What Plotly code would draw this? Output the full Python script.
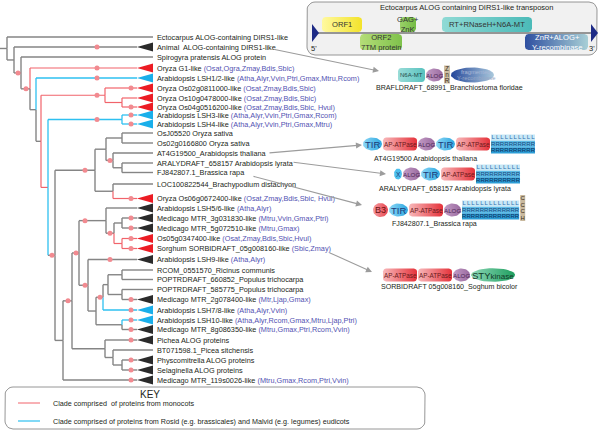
import numpy as np
import plotly.graph_objects as go

FONT = 'Liberation Sans, Arial, sans-serif'

# ---------------- tree data ----------------
leaf_ids = ['ecto', 'animal', 'spiro', 'g1', 'lsh12', 'os02a', 'os10', 'os04', 'lsh3', 'lsh4',
            'osj', 'os02b', 'at4g', 'araly', 'fj', 'loc', 'os06', 'lsh56', 'mtr3', 'mtr5',
            'os05', 'sorb', 'lsh9', 'rcom', 'pop1', 'pop2', 'mtr2', 'lsh78', 'lsh10', 'mtr8',
            'pichea', 'bt', 'physco', 'selag', 'mtr119']
leaf_names = ['Ectocarpus ALOG-containing DIRS1-like', 'Animal  ALOG-containing DIRS1-like',
              'Spirogyra pratensis ALOG protein', 'Oryza G1-like', 'Arabidopsis LSH1/2-like',
              'Oryza Os02g0811000-like', 'Oryza Os10g0478000-like', 'Oryza Os04g0516200-like',
              'Arabidopsis LSH3-like', 'Arabidopsis LSH4-like', 'OsJ05520 Oryza sativa',
              'Os02g0166800 Oryza sativa', 'AT4G19500_Arabidopsis thaliana',
              'ARALYDRAFT_658157 Arabidopsis lyrata', 'FJ842807.1_Brassica rapa',
              'LOC100822544_Brachypodium distachyon', 'Oryza Os06g0672400-like',
              'Arabidopsis LSH5/6-like', 'Medicago MTR_3g031830-like', 'Medicago MTR_5g072510-like',
              'Os05g0347400-like', 'Sorghum SORBIDRAFT_05g008160-like', 'Arabidopsis LSH9-like',
              'RCOM_0551570_Ricinus communis', 'POPTRDRAFT_660852_Populus trichocarpa',
              'POPTRDRAFT_585775_Populus trichocarpa', 'Medicago MTR_2g078400-like',
              'Arabidopsis LSH7/8-like', 'Arabidopsis LSH10-like', 'Medicago MTR_8g086350-like',
              'Pichea ALOG proteins', 'BT071598.1_Picea sitchensis', 'Physcomitrella ALOG proteins',
              'Selaginella ALOG proteins', 'Medicago MTR_119s0026-like']
leaf_species = ['', '', '', 'Osat,Ogra,Zmay,Bdis,Sbic', 'Atha,Alyr,Vvin,Ptri,Gmax,Mtru,Rcom',
                'Osat,Zmay,Bdis,Sbic', 'Osat,Zmay,Bdis,Sbic', 'Osat,Zmay,Bdis,Sbic, Hvul',
                'Atha,Alyr,Vvin,Ptri,Gmax,Rcom', 'Atha,Alyr,Vvin,Ptri,Gmax,Mtru', '', '', '', '', '', '',
                'Osat,Zmay,Bdis,Sbic, Hvul', 'Atha,Alyr', 'Mtru,Vvin,Gmax,Ptri', 'Mtru,Gmax',
                'Osat,Zmay,Bdis,Sbic,Hvul', 'Sbic,Zmay', 'Atha,Alyr', '', '', '', 'Mtr,Ljap,Gmax',
                'Atha,Alyr,Vvin', 'Atha,Alyr,Rcom,Gmax,Mtru,Ljap,Ptri', 'Mtru,Gmax,Ptri,Rcom,Vvin',
                '', '', '', '', 'Mtru,Gmax,Rcom,Ptri,Vvin']
leaf_collapsed = [0, 1, 0, 1, 1, 1, 1, 1, 1, 1, 0, 0, 0, 0, 0, 0, 1, 1, 1, 1,
                  1, 1, 1, 0, 0, 0, 1, 1, 1, 1, 1, 0, 1, 1, 1]

node_children = {
    'root': ['ecto', 'n1'], 'n1': ['animal', 'n2'], 'n2': ['spiro', 'n3'], 'n3': ['g1', 'n4'],
    'n4': ['lsh12', 'n5'], 'n5': ['r1', 'n6'], 'r1': ['os02a', 'r2'], 'r2': ['os10', 'os04'],
    'n6': ['b1', 'n7'], 'b1': ['lsh3', 'lsh4'], 'n7': ['n8', 'nx'], 'n8': ['n9', 'n12'],
    'n9': ['p1', 'n10'], 'p1': ['osj', 'os02b'], 'n10': ['at4g', 'n11'], 'n11': ['araly', 'fj'],
    'n12': ['loc', 'os06'], 'nx': ['n13', 'mtr119'], 'n13': ['n16', 'ncm'], 'n16': ['n17', 'n18'],
    'n17': ['lsh56', 'n19'], 'n19': ['n20', 'n21'], 'n20': ['mtr3', 'mtr5'], 'n21': ['os05', 'sorb'],
    'n18': ['lsh9', 'n25'], 'n25': ['n26', 'n23'], 'n26': ['n27', 'lsh78'], 'n27': ['pa', 'pb'],
    'pa': ['rcom', 'pop1'], 'pb': ['pop2', 'mtr2'], 'n23': ['lsh10', 'mtr8'],
    'ncm': ['pichea', 'n14'], 'n14': ['bt', 'n15'], 'n15': ['physco', 'selag'],
}
node_depth = {'root': 7, 'n1': 14, 'n2': 21, 'n3': 30, 'n4': 36, 'n5': 41, 'r1': 105, 'r2': 122,
              'n6': 48, 'b1': 122, 'n7': 55, 'n8': 95, 'n9': 106, 'p1': 122, 'n10': 113, 'n11': 122,
              'n12': 113, 'nx': 63, 'n13': 72, 'n16': 79, 'n17': 106, 'n19': 114, 'n20': 122,
              'n21': 122, 'n18': 88, 'n25': 96, 'n26': 103, 'n27': 108, 'pa': 122, 'pb': 122,
              'n23': 122, 'ncm': 105, 'n14': 113, 'n15': 122}
monocot_branches = ['g1', 'r1', 'os02a', 'r2', 'os10', 'os04', 'os06', 'n21', 'os05', 'sorb', 'n6']
eudicot_branches = ['lsh12', 'b1', 'lsh3', 'lsh4', 'lsh78', 'lsh10']
support_at = {'n2': 18, 'n3': 26, 'animal': 97, 'g1': 97, 'lsh12': 97, 'r1': 97, 'os02a': 131,
              'os04': 131, 'b1': 97, 'lsh3': 131, 'lsh4': 131, 'n7': 52, 'n8': 85, 'n10': 110,
              'os06': 131, 'n13': 68, 'n16': 76, 'n17': 85, 'n19': 110, 'mtr3': 131, 'mtr5': 131,
              'os05': 131, 'sorb': 131, 'n18': 85, 'lsh9': 110, 'n26': 100, 'mtr2': 131,
              'lsh78': 131, 'lsh10': 131, 'mtr8': 131, 'pichea': 131, 'physco': 131,
              'selag': 131, 'mtr119': 131}

# domain architectures
arch_labels = ['BRAFLDRAFT_68991_Branchiostoma floridae', 'AT4G19500 Arabidopsis thaliana',
               'ARALYDRAFT_658157 Arabidopsis lyrata', 'FJ842807.1_Brassica rapa',
               'SORBIDRAFT 05g008160_Soghum bicolor']
arch_domains = [['N6A-MT', 'ALOG', 'ZnR', 'fragY'],
                ['TIR', 'AP-ATPase', 'ALOG', 'TIR', 'AP-ATPase', 'LRR10'],
                ['X', 'ALOG', 'TIR', 'AP-ATPase', 'LRR10'],
                ['B3', 'TIR', 'AP-ATPase', 'ALOG', 'LRR13', 'CCCH'],
                ['AP-ATPase', 'AP-ATPase', 'ALOG', 'STYkinase']]

# ---------------- layout constants ----------------
row_px = [37, 47, 57, 68, 78, 88, 98, 107, 115, 124, 133, 143, 153, 163, 172.5, 184, 198.5,
          208, 218, 228, 238.5, 248.5, 259.5, 270, 279.5, 289.5, 299.5, 310, 320, 329.5,
          340, 350, 360, 370, 380]
arch_start = [(398, 75), (363, 144), (394, 174), (373, 210), (383, 275)]
arch_caption = [(449, 88), (425, 159), (445, 189), (434, 224), (449, 287)]
arrow_tail = [(272, 49), (268, 153), (292, 162), (252, 176), (328, 252)]
arrow_head = [(379, 71), (362, 145), (386, 174), (362, 205), (372, 272)]

GRAY, RED, BLUE = '#858585', '#F1636B', '#2EC0F0'
TRI = {'m': '#EC1C24', 'e': '#1AAFEA', 'o': '#2B2B2B'}
SPC = '#5252B2'

fig = go.Figure()
ann = []


def txt(x, y, s, size=7.3, color='#231F20', anchor='left', **kw):
    ann.append(dict(x=x, y=y, text=s, showarrow=False, xanchor=anchor, yanchor='middle',
                    font=dict(family=FONT, size=size, color=color), borderpad=0, **kw))


def poly(xs, ys, color, grad=None, lw=0, lc=None, fill=True):
    kw = dict(x=list(xs), y=list(ys), mode='lines', hoverinfo='skip', showlegend=False,
              line=dict(width=lw, color=lc or color))
    if fill:
        kw.update(fill='toself', fillcolor=color)
        if grad:
            kw['fillgradient'] = dict(type='horizontal', colorscale=[[0, grad[0]], [1, grad[1]]])
    fig.add_trace(go.Scatter(**kw))


def rrect(x0, x1, y0, y1, r):
    pts = []
    for cx, cy, a0, a1 in [(x1 - r, y0 + r, -90, 0), (x1 - r, y1 - r, 0, 90),
                           (x0 + r, y1 - r, 90, 180), (x0 + r, y0 + r, 180, 270)]:
        for a in np.radians(np.linspace(a0, a1, 7)):
            pts.append((cx + r * np.cos(a), cy + r * np.sin(a)))
    pts.append(pts[0])
    return [p[0] for p in pts], [p[1] for p in pts]


def ell(cx, cy, rx, ry):
    t = np.linspace(0, 2 * np.pi, 48)
    return cx + rx * np.cos(t), cy + ry * np.sin(t)


# ---------------- tree ----------------
ys = dict(zip(leaf_ids, row_px))
depth = dict(node_depth)
for lid, col in zip(leaf_ids, leaf_collapsed):
    depth[lid] = 137 if col else 153


def node_y(n):
    if n not in ys:
        ch = node_children[n]
        ys[n] = (node_y(ch[0]) + node_y(ch[-1])) / 2
    return ys[n]


node_y('root')


def stem_color(n):
    if n in monocot_branches:
        return RED
    if n in eudicot_branches:
        return BLUE
    return GRAY


vert_override = {'n6': BLUE}
segs = {GRAY: ([], []), RED: ([], []), BLUE: ([], [])}


def seg(c, x0, y0, x1, y1):
    segs[c][0].extend([x0, x1, None])
    segs[c][1].extend([y0, y1, None])


seg(GRAY, 0, ys['root'], depth['root'], ys['root'])
for n, ch in node_children.items():
    for c in ch:
        seg(vert_override.get(n, stem_color(c)), depth[n], ys[n], depth[n], ys[c])
        seg(stem_color(c), depth[n], ys[c], depth[c], ys[c])

for c, w in [(GRAY, 1.4), (RED, 1.2), (BLUE, 1.3)]:
    fig.add_trace(go.Scatter(x=segs[c][0], y=segs[c][1], mode='lines', hoverinfo='skip',
                             showlegend=False, line=dict(color=c, width=w)))

# collapsed clades
for lid, col in zip(leaf_ids, leaf_collapsed):
    if col:
        k = 'm' if lid in monocot_branches else ('e' if lid in eudicot_branches else 'o')
        y = ys[lid]
        poly([137, 153, 153, 137], [y, y - 4.4, y + 4.4, y], TRI[k])

# support markers
fig.add_trace(go.Scatter(x=list(support_at.values()), y=[ys[k] for k in support_at],
                         mode='markers', hoverinfo='skip', showlegend=False,
                         marker=dict(size=5, color='#F28A90', line=dict(width=0))))

# leaf labels
for lid, name, sp in zip(leaf_ids, leaf_names, leaf_species):
    s = name + (' <span style="color:%s">(%s)</span>' % (SPC, sp) if sp else '')
    txt(156, ys[lid], s)

# ---------------- transposon box ----------------
bx, by = rrect(307, 597, 2, 55, 8)
poly(bx, by, '#F1F1F1', lw=0.9, lc='#8A8A8A')
txt(466, 7, 'Ectocarpus ALOG containing DIRS1-like transposon', size=7.5, anchor='center')
fig.add_trace(go.Scatter(x=[316, 592], y=[33, 33], mode='lines', hoverinfo='skip',
                         showlegend=False, line=dict(color='#3A3A3A', width=1)))
poly([312, 319, 312, 312], [24, 33, 42, 24], '#1E2B86')
poly([591, 598, 591, 591], [24, 33, 42, 24], '#1E2B86')
txt(314, 48, "5'", size=7.5, anchor='center')
txt(592, 48, "3'", size=7.5, anchor='center')

te_parts = [('ORF1', 322, 362, 17, 32, ('#FFF9A0', '#F3E32A'), '#333'),
            ('ORF2<br>7TM protein', 360, 402, 34, 50, ('#B5DD78', '#7FC24C'), '#333'),
            ('GAG+<br>ZnK', 400, 416, 17, 32, ('#9AD268', '#74BB44'), '#333'),
            ('RT+RNaseH+N6A-MT', 442, 532, 17, 32, ('#8FDAD5', '#4BBAB8'), '#333'),
            ('ZnR+ALOG+<br>Y-recombinase', 525, 588, 34, 50, ('#2E4FA0', '#A8CFD6'), 'white')]
for lab, x0, x1, y0, y1, g, tc in te_parts:
    px, py = rrect(x0, x1, y0, y1, 3.5)
    poly(px, py, g[1], grad=g)
    txt((x0 + x1) / 2, (y0 + y1) / 2, lab, size=7.6, color=tc, anchor='center')

# ---------------- domain architectures ----------------
dom_w = {'TIR': 19, 'AP-ATPase': 34, 'ALOG': 17, 'X': 8, 'B3': 15, 'N6A-MT': 27,
         'ZnR': 6, 'fragY': 43, 'STYkinase': 44, 'CCCH': 5}


def letter_col(x, ys_, chars, size=6, color='#3A2A1A'):
    fig.add_trace(go.Scatter(x=[x] * len(chars), y=ys_, text=chars, mode='text',
                             hoverinfo='skip', showlegend=False,
                             textfont=dict(family=FONT, size=size, color=color)))


def draw_domain(kind, x0, cy):
    if kind.startswith('LRR'):
        n = int(kind[3:])
        w = 4.4 * n
        rows = [('#C8E8F6', 'L', '#2E6FAE'), ('#5DBBE6', 'R', '#17457A'), ('#2C9DD6', 'R', '#0F2F5A')]
        h = 6.4
        top = cy - 1.5 * h
        for i, (fc, ch, tc) in enumerate(rows):
            poly([x0, x0 + w, x0 + w, x0, x0], [top + i * h, top + i * h, top + (i + 1) * h,
                                               top + (i + 1) * h, top + i * h], fc)
            xs = [x0 + 2.2 + 4.4 * j for j in range(n)]
            fig.add_trace(go.Scatter(x=xs, y=[top + (i + 0.5) * h] * n, text=[ch] * n, mode='text',
                                     hoverinfo='skip', showlegend=False,
                                     textfont=dict(family=FONT, size=6, color=tc)))
        return w
    w = dom_w[kind]
    cx = x0 + w / 2
    if kind == 'TIR':
        ex, ey = ell(cx, cy, w / 2, 6.5)
        poly(ex, ey, '#45B8EA', grad=('#8AD6F6', '#2EA8E0'))
        txt(cx, cy, 'TIR', size=9.5, color='#1D3A78', anchor='center')
    elif kind == 'AP-ATPase':
        px, py = rrect(x0, x0 + w, cy - 6.5, cy + 6.5, 3)
        poly(px, py, '#EE5058', grad=('#F8B8BA', '#E5323A'))
        txt(cx, cy, 'AP-ATPase', size=6.3, color='#6A1A1C', anchor='center')
    elif kind == 'ALOG':
        ex, ey = ell(cx, cy, w / 2, 6.5)
        poly(ex, ey, '#A875AC', grad=('#C29BC4', '#9A6AA0'))
        txt(cx, cy, 'ALOG', size=6.2, color='#4A1F50', anchor='center')
    elif kind == 'X':
        ex, ey = ell(cx, cy, w / 2, 5.5)
        poly(ex, ey, '#4CC0EE')
        txt(cx, cy, 'X', size=6.5, color='#1D3A78', anchor='center')
    elif kind == 'B3':
        ex, ey = ell(cx, cy, w / 2, 7)
        poly(ex, ey, '#EE6A72', grad=('#F59AA0', '#E8464F'))
        txt(cx, cy, 'B3', size=9, color='#6A1010', anchor='center')
    elif kind == 'N6A-MT':
        px, py = rrect(x0, x0 + w, cy - 7, cy + 7, 3)
        poly(px, py, '#6CCFCB', grad=('#9ADCD8', '#58C2BF'))
        txt(cx, cy, 'N6A-MT', size=6, color='#1E4A4A', anchor='center')
    elif kind == 'ZnR':
        poly([x0, x0 + w, x0 + w, x0, x0], [cy - 9.5, cy - 9.5, cy + 8.5, cy + 8.5, cy - 9.5], '#CDBFA4')
        letter_col(cx, [cy - 6, cy, cy + 6], ['Z', 'n', 'R'], size=6.5)
    elif kind == 'fragY':
        ex, ey = ell(cx, cy, w / 2, 7.5)
        poly(ex, ey, '#3C64AE', grad=('#25479A', '#A9C8DC'))
        txt(cx + 3, cy - 3, 'fragmented', size=5.8, color='#A8B8D8', anchor='center')
        txt(cx + 3, cy + 3.2, 'Y-recombinase', size=5.8, color='#9AAAC8', anchor='center')
    elif kind == 'STYkinase':
        ex, ey = ell(cx, cy, w / 2, 6.8)
        poly(ex, ey, '#3DB57E', grad=('#8ED8B8', '#1E9E5E'))
        txt(cx, cy, 'STY<span style="font-size:8px">kinase</span>', size=9.5,
            color='#123A28', anchor='center')
    elif kind == 'CCCH':
        poly([x0, x0 + w, x0 + w, x0, x0], [cy - 15, cy - 15, cy + 11, cy + 11, cy - 15], '#C9B99E')
        letter_col(cx, [cy - 11.5, cy - 5, cy + 1.5, cy + 8], ['C', 'C', 'C', 'H'], size=6)
    return w


for doms, (sx, cy), (capx, capy), lab in zip(arch_domains, arch_start, arch_caption, arch_labels):
    x = sx
    for d in doms:
        x += draw_domain(d, x, cy) + 1
    txt(capx, capy, lab, size=7.1, anchor='center')

for (ax, ay), (hx, hy) in zip(arrow_tail, arrow_head):
    ann.append(dict(x=hx, y=hy, ax=ax, ay=ay, axref='x', ayref='y', xref='x', yref='y',
                    text='', showarrow=True, arrowhead=2, arrowsize=1.1, arrowwidth=1.1,
                    arrowcolor='#9C9C9C'))

# ---------------- key ----------------
kx, ky = rrect(5, 425, 387, 429, 8)
poly(kx, ky, '#888888', lw=0.9, lc='#8A8A8A', fill=False)
txt(150, 394, 'KEY', size=10, anchor='center')
fig.add_trace(go.Scatter(x=[18, 40], y=[403, 403], mode='lines', hoverinfo='skip',
                         showlegend=False, line=dict(color=RED, width=1)))
fig.add_trace(go.Scatter(x=[18, 40], y=[421, 421], mode='lines', hoverinfo='skip',
                         showlegend=False, line=dict(color=BLUE, width=1.2)))
txt(52, 403, 'Clade comprised  of proteins from monocots', size=7.2)
txt(52, 421, 'Clade comprised of proteins from Rosid (e.g. brassicales) and Malvid (e.g. legumes) eudicots',
    size=7.2)

fig.update_layout(width=600, height=431, margin=dict(l=0, r=0, t=0, b=0),
                  paper_bgcolor='white', plot_bgcolor='white', annotations=ann,
                  xaxis=dict(range=[0, 600], visible=False, fixedrange=True),
                  yaxis=dict(range=[431, 0], visible=False, fixedrange=True))
fig.write_html("out.html", config={'displayModeBar': False},
               post_script="document.body.style.margin='0';")
